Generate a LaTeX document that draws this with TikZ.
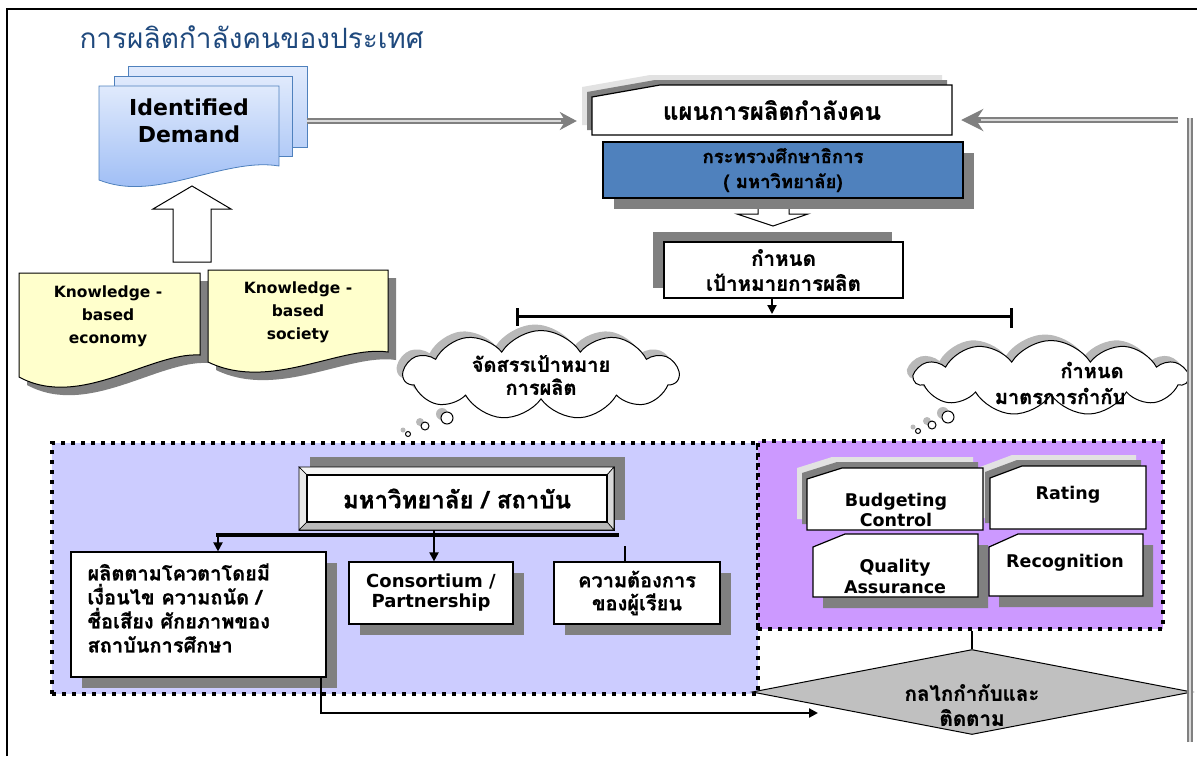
\documentclass[tikz,border=0pt]{standalone}
\usepackage{fontspec}
\setmainfont{DejaVu Sans}
\newfontfamily\thaifont[Script=Thai, BoldFeatures={FakeBold=0.8}]{Loma}
\usetikzlibrary{arrows.meta,shapes.geometric,shapes.symbols,shadows,calc}

\definecolor{titleblue}{RGB}{31,73,125}
\definecolor{docA}{RGB}{224,234,252}
\definecolor{docB}{RGB}{158,189,245}
\definecolor{docedge}{RGB}{79,129,189}
\definecolor{paleyellow}{RGB}{255,255,204}
\definecolor{lavender}{RGB}{204,204,255}
\definecolor{lilac}{RGB}{204,153,255}
\definecolor{moeblue}{RGB}{79,129,189}
\definecolor{shadowgray}{RGB}{128,128,128}
\definecolor{lightshadow}{RGB}{226,226,226}
\definecolor{silver}{RGB}{192,192,192}

% box with a snipped top-left corner: style, x1, y1, x2, y2, snip dx, snip dy
\newcommand\snippath[7]{\path[#1] (#2,#3+#7) -- (#2+#6,#3) -- (#4,#3) -- (#4,#5) -- (#2,#5) -- cycle;}

\begin{document}
\begin{tikzpicture}[x=1pt,y=-1pt,
  th/.style 2 args={font={\thaifont\bfseries\fontsize{#1}{#2}\selectfont}},
  lat/.style 2 args={font={\bfseries\fontsize{#1}{#2}\selectfont}},
  box/.style={draw=black, line width=1.2pt, fill=white, inner sep=0pt},
  shDR/.style={drop shadow={shadow xshift=11pt, shadow yshift=-11pt, fill=shadowgray, opacity=1}},
  shUL/.style={drop shadow={shadow xshift=-11pt, shadow yshift=10pt, fill=shadowgray, opacity=1}},
  zone/.style={draw=black, line width=4pt, dash pattern=on 4pt off 6pt, inner sep=0pt},
  tipped/.style={-{Triangle[length=9pt,width=9pt]}},
  pipe/.style={draw=shadowgray, line width=6pt},
  pipecore/.style={draw=gray!30, line width=1.5pt},
  blockarrow/.style={draw=black, line width=1pt, fill=white, line join=miter},
  puff/.style={cloud, cloud puffs=11, cloud puff arc=115, aspect=3.2, draw=black, line width=1pt, fill=white, inner sep=0pt,
    drop shadow={shadow xshift=-6pt, shadow yshift=6pt, fill=gray!55, opacity=1}},
  bubble/.style={circle, draw=black, line width=1pt, fill=white, inner sep=0pt, minimum size=#1,
    drop shadow={shadow xshift=-5pt, shadow yshift=4pt, fill=gray!55, opacity=1}},
]
\useasboundingbox (0,0) rectangle (1197,756);

% frame
\draw[line width=2.5pt] (7,756) -- (7,9) -- (1197,9);

% title
\node[anchor=base west, text=titleblue, font={\thaifont\fontsize{28}{30}\selectfont}] (title) at (76,48) {การผลิตกำลังคนของประเทศ};

% stacked document: identified demand
\shade[top color=docA, bottom color=docB!55!docA, draw=docedge, line width=0.8pt] (128,66) rectangle (307,147);
\shade[top color=docA, bottom color=docB!70!docA, draw=docedge, line width=0.8pt] (114,76) rectangle (292,156);
\shade[top color=docA, bottom color=docB, draw=docedge, line width=0.8pt]
  (99,86) -- (279,86) -- (279,166) .. controls (255,162) and (230,168) .. (190,178)
  .. controls (150,188) and (125,190) .. (99,180) -- cycle;
\node[lat={22}{27}, align=center] (demand) at (189,121) {Identified\\Demand};
\coordinate (demandR) at (307,121);

% block arrow up
\path[blockarrow] (192,186) -- (231,209) -- (211,209) -- (211,262) -- (173,262) -- (173,209) -- (153,209) -- cycle;

% knowledge documents
\begin{scope}[shift={(8,8)}]
  \fill[shadowgray] (19,273) -- (200,273) -- (200,355) .. controls (150,352) and (80,410) .. (19,377) -- cycle;
  \fill[shadowgray] (208,270) -- (388,270) -- (388,352) .. controls (340,345) and (270,392) .. (208,362) -- cycle;
\end{scope}
\path[draw=black, line width=1pt, fill=paleyellow] (19,273) -- (200,273) -- (200,355) .. controls (150,352) and (80,410) .. (19,377) -- cycle;
\path[draw=black, line width=1pt, fill=paleyellow] (208,270) -- (388,270) -- (388,352) .. controls (340,345) and (270,392) .. (208,362) -- cycle;
\node[lat={15.5}{23}, align=center] (kbe) at (108,316) {Knowledge -\\based\\economy};
\node[lat={15.5}{23}, align=center] (kbs) at (298,312) {Knowledge -\\based\\society};

% manpower plan
\snippath{fill=lightshadow}{582}{75}{942}{125}{68}{12}
\snippath{fill=shadowgray}{587}{80}{947}{130}{68}{12}
\snippath{box}{592}{85}{952}{135}{68}{12}
\node[th={24}{26}, minimum width=360pt, minimum height=50pt, inner sep=0pt] (plan) at (772,110) {แผนการผลิตกำลังคน};

% ministry
\path[blockarrow] (758,200) -- (758,214) -- (737,214) -- (773,226) -- (808,214) -- (789,214) -- (789,200) -- cycle;
\node[box, fill=moeblue, shDR, minimum width=360pt, minimum height=56pt, align=center, th={18.5}{25}] (moe) at (783,170) {กระทรวงศึกษาธิการ\\( มหาวิทยาลัย)};

% production target
\node[box, shUL, minimum width=239pt, minimum height=56pt, align=center, th={20.5}{25}] (target) at (783.5,270) {กำหนด\\เป้าหมายการผลิต};
\coordinate (brk) at (772,314);
\draw[line width=2pt, tipped] (target.south -| brk) -- (brk);

% split bracket
\coordinate (bl) at (517,316);
\coordinate (br) at (1011,316);
\draw[line width=3pt] (bl) -- (br);
\draw[line width=3pt] (bl) ++(0,-8) -- ++(0,18);
\draw[line width=3pt] (br) ++(0,-8) -- ++(0,20);

% thought clouds
\node[puff, minimum width=275pt, minimum height=85pt, align=center, th={20}{23}] (cloudA) at (541,375) {จัดสรรเป้าหมาย\\การผลิต};
\node[puff, minimum width=273pt, minimum height=75pt] (cloudB) at (1051,378) {};
\node[th={20}{23}] (cloudBa) at (1092,370) {กำหนด};
\node[th={20}{23}] (cloudBb) at (1060,396) {มาตรการกำกับ};
\node[bubble=12pt] (bA1) at (447,418) {};
\node[bubble=8pt] (bA2) at (425,426) {};
\node[bubble=5pt] (bA3) at (408,434) {};
\node[bubble=12pt] (bB1) at (948,417) {};
\node[bubble=8pt] (bB2) at (932,425) {};
\node[bubble=5pt] (bB3) at (918,431) {};

% zones
\node[zone, fill=lavender, minimum width=706pt, minimum height=251pt] (zoneA) at (405,568.5) {};
\node[zone, fill=lilac, minimum width=405pt, minimum height=188pt] (zoneB) at (960.5,535) {};

% university bevel box
\fill[shadowgray] (310,457) rectangle (625,520);
\path[draw=black, line width=1pt, fill=gray!45] (299,467) rectangle (614,530);
\path[fill=gray!8, draw=black, line width=0.6pt] (299,467) -- (614,467) -- (607,475) -- (307,475) -- cycle;
\path[fill=gray!18, draw=black, line width=0.6pt] (299,467) -- (307,475) -- (307,522) -- (299,530) -- cycle;
\path[fill=gray!30, draw=black, line width=0.6pt] (614,467) -- (614,530) -- (607,522) -- (607,475) -- cycle;
\path[fill=gray!55, draw=black, line width=0.6pt] (299,530) -- (614,530) -- (607,522) -- (307,522) -- cycle;
\node[draw=black, line width=1.2pt, fill=white, minimum width=300pt, minimum height=47pt, inner sep=0pt, th={24}{26}] (univ) at (457,498.5) {มหาวิทยาลัย / สถาบัน};

% university outputs
\node[box, shDR, minimum width=255pt, minimum height=125pt] (quota) at (198.5,614.5) {};
\node[anchor=west, align=left, th={20}{24}] (quotatext) at (84,608) {ผลิตตามโควตาโดยมี\\เงื่อนไข ความถนัด /\\ชื่อเสียง ศักยภาพของ\\สถาบันการศึกษา};
\node[box, shDR, minimum width=164pt, minimum height=62pt, align=center, lat={18}{20}] (cons) at (431,593) {Consortium /\\Partnership};
\node[box, shDR, minimum width=166pt, minimum height=62pt, align=center, th={20}{23}] (need) at (637,593) {ความต้องการ\\ของผู้เรียน};

\coordinate (ul) at (216,535);
\coordinate (ur) at (619,535);
\coordinate (u1) at (218,535);
\coordinate (u2) at (434,530);
\coordinate (u3) at (625,546);
\draw[line width=4pt] (ul) -- (ur);
\draw[line width=2pt, tipped] (u1) -- (u1 |- quota.north);
\draw[line width=2pt, tipped] (u2) -- (u2 |- cons.north);
\draw[line width=1.5pt] (u3) -- (u3 |- need.north);

% regulation measures
\snippath{fill=lightshadow}{797}{457}{973}{519}{35}{11}
\snippath{fill=shadowgray}{802}{462}{978}{524}{35}{11}
\snippath{fill=lightshadow}{980}{455}{1136}{518}{32}{12}
\snippath{fill=shadowgray}{985}{460}{1141}{523}{32}{12}
\snippath{box}{807}{468}{983}{530}{35}{11}
\snippath{box}{990}{466}{1146}{529}{32}{12}
\snippath{fill=shadowgray}{823}{545}{988}{608}{32}{13}
\snippath{fill=shadowgray}{999}{545}{1153}{607}{29}{13}
\snippath{box}{813}{534}{978}{597}{32}{13}
\snippath{box}{989}{534}{1143}{596}{29}{13}
\node[lat={17.5}{20}, align=center] (budget) at (896,510) {Budgeting\\Control};
\node[lat={17.5}{21}] (rating) at (1068,495) {Rating};
\node[lat={17.5}{21}, align=center] (quality) at (895,576) {Quality\\Assurance};
\node[lat={17.5}{21}] (recog) at (1065,563) {Recognition};

% monitoring mechanism
\node[diamond, draw=black, line width=1pt, fill=silver, minimum width=440pt, minimum height=85pt, inner sep=0pt] (mech) at (972,692) {};
\node[align=center, th={20.5}{25}] (mechtext) at (972,705) {กลไกกำกับและ\\ติดตาม};
\draw[line width=2pt] (zoneB.south -| mech.north) -- (mech.north);

\coordinate (qdrop) at (321,713);
\coordinate (qend) at (818,713);
\draw[line width=2.5pt, tipped] (quota.south -| qdrop) -- (qdrop) -- (qend);

% gray feedback pipes
\draw[pipe, -{Stealth[length=17pt,width=18pt]}] (demandR) -- ($(plan.west |- demandR)+(-15,0)$);
\draw[pipecore, shorten >=16pt] (demandR) -- ($(plan.west |- demandR)+(-15,0)$);
\coordinate (fbbot) at (1190,742);
\coordinate (fbtop) at (1190,118);
\coordinate (fbstart) at (1178,120);
\draw[pipe] (fbbot) -- (fbtop);
\draw[pipecore] (fbbot) -- (fbtop);
\draw[pipe, -{Stealth[length=22pt,width=22pt]}] (fbstart) -- ($(plan.east |- fbstart)+(9,0)$);
\draw[pipecore, shorten >=20pt] (fbstart) -- ($(plan.east |- fbstart)+(9,0)$);
\end{tikzpicture}
\end{document}
